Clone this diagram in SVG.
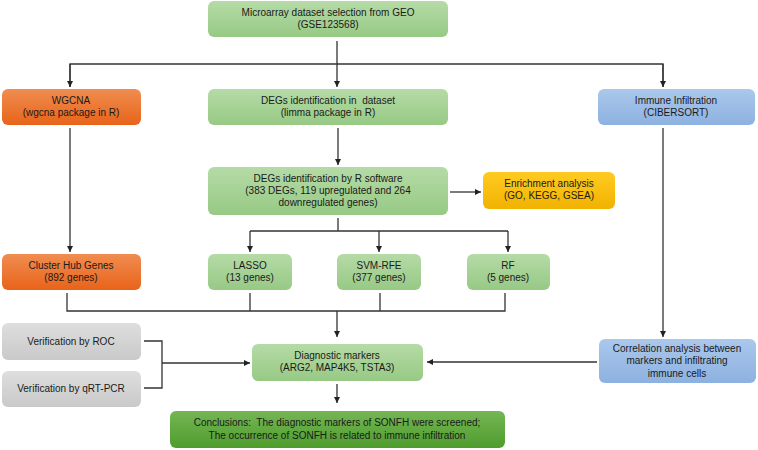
<svg xmlns="http://www.w3.org/2000/svg" width="758" height="450" viewBox="0 0 758 450">
<defs>
<linearGradient id="gGreen" x1="0" y1="0" x2="0" y2="1"><stop offset="0" stop-color="#b5dba6"/><stop offset="1" stop-color="#97c985"/></linearGradient>
<linearGradient id="gOrange" x1="0" y1="0" x2="0" y2="1"><stop offset="0" stop-color="#f08d50"/><stop offset="1" stop-color="#e8631a"/></linearGradient>
<linearGradient id="gBlue" x1="0" y1="0" x2="0" y2="1"><stop offset="0" stop-color="#abc8ec"/><stop offset="1" stop-color="#8db1e0"/></linearGradient>
<linearGradient id="gYellow" x1="0" y1="0" x2="0" y2="1"><stop offset="0" stop-color="#ffcb22"/><stop offset="1" stop-color="#f2b200"/></linearGradient>
<linearGradient id="gGray" x1="0" y1="0" x2="0" y2="1"><stop offset="0" stop-color="#dedede"/><stop offset="1" stop-color="#c9c9c9"/></linearGradient>
<linearGradient id="gDark" x1="0" y1="0" x2="0" y2="1"><stop offset="0" stop-color="#74b654"/><stop offset="1" stop-color="#4f9c2d"/></linearGradient>
<marker id="arr" viewBox="0 0 10 10" refX="10" refY="5" markerWidth="6" markerHeight="6" markerUnits="userSpaceOnUse" orient="auto"><path d="M0,0 L10,5 L0,10 z" fill="#222"/></marker>
</defs>
<style>
text{font-family:"Liberation Sans",Arial,sans-serif;font-size:10px;fill:#1a1a1a;text-anchor:middle;white-space:pre}
.box{stroke:none}
.c{fill:none;stroke:#333;stroke-width:1.3}
</style>
<rect width="758" height="450" fill="#fff"/>
<g id="connectors">
<path class="c" d="M337,41 V87" marker-end="url(#arr)"/>
<path class="c" d="M70,87 V64 H663 V87" />
<path class="c" d="M70,64 V87" marker-end="url(#arr)"/>
<path class="c" d="M663,64 V87" marker-end="url(#arr)"/>
<path class="c" d="M70,128 V252" marker-end="url(#arr)"/>
<path class="c" d="M338,128 V165" marker-end="url(#arr)"/>
<path class="c" d="M450,192 H481" marker-end="url(#arr)"/>
<path class="c" d="M338,218 V231"/>
<path class="c" d="M250,231 H508"/>
<path class="c" d="M250,231 V252" marker-end="url(#arr)"/>
<path class="c" d="M379,231 V252" marker-end="url(#arr)"/>
<path class="c" d="M508,231 V252" marker-end="url(#arr)"/>
<path class="c" d="M67,293 V311 H505 V293"/>
<path class="c" d="M250,293 V311"/>
<path class="c" d="M380,293 V311"/>
<path class="c" d="M337,311 V337" marker-end="url(#arr)"/>
<path class="c" d="M144,341 H162 V388 H144"/>
<path class="c" d="M162,363 H250" marker-end="url(#arr)"/>
<path class="c" d="M337,384 V403" marker-end="url(#arr)"/>
<path class="c" d="M663,128 V337" marker-end="url(#arr)"/>
<path class="c" d="M597,362 H427" marker-end="url(#arr)"/>
</g>
<g id="microarray"><rect class="box" x="208" y="1" width="240" height="36" rx="6" fill="url(#gGreen)"/><text x="328" y="16">Microarray dataset selection from GEO</text><text x="328" y="28">(GSE123568)</text></g>
<g id="wgcna"><rect class="box" x="2" y="89" width="139" height="36" rx="6" fill="url(#gOrange)"/><text x="71" y="104">WGCNA</text><text x="71" y="116">(wgcna package in R)</text></g>
<g id="degs-dataset"><rect class="box" x="208" y="89" width="240" height="36" rx="6" fill="url(#gGreen)"/><text x="328" y="104" xml:space="preserve">DEGs identification in  dataset</text><text x="328" y="116">(limma package in R)</text></g>
<g id="immune"><rect class="box" x="598" y="89" width="157" height="36" rx="6" fill="url(#gBlue)"/><text x="676" y="104">Immune Infiltration</text><text x="676" y="116">(CIBERSORT)</text></g>
<g id="degs-r"><rect class="box" x="208" y="167" width="240" height="48" rx="6" fill="url(#gGreen)"/><text x="328" y="182">DEGs identification by R software</text><text x="328" y="194">(383 DEGs, 119 upregulated and 264</text><text x="328" y="206">downregulated genes)</text></g>
<g id="enrichment"><rect class="box" x="483" y="172" width="132" height="37" rx="6" fill="url(#gYellow)"/><text x="549" y="187">Enrichment analysis</text><text x="549" y="199">(GO, KEGG, GSEA)</text></g>
<g id="cluster"><rect class="box" x="2" y="254" width="139" height="36" rx="6" fill="url(#gOrange)"/><text x="71" y="269">Cluster Hub Genes</text><text x="71" y="281">(892 genes)</text></g>
<g id="lasso"><rect class="box" x="208" y="254" width="84" height="36" rx="6" fill="url(#gGreen)"/><text x="250" y="269">LASSO</text><text x="250" y="281">(13 genes)</text></g>
<g id="svm"><rect class="box" x="337" y="254" width="84" height="36" rx="6" fill="url(#gGreen)"/><text x="379" y="269">SVM-RFE</text><text x="379" y="281">(377 genes)</text></g>
<g id="rf"><rect class="box" x="467" y="254" width="83" height="36" rx="6" fill="url(#gGreen)"/><text x="508" y="269">RF</text><text x="508" y="281">(5 genes)</text></g>
<g id="roc"><rect class="box" x="2" y="323" width="139" height="37" rx="6" fill="url(#gGray)"/><text x="71" y="345">Verification by ROC</text></g>
<g id="qrtpcr"><rect class="box" x="2" y="371" width="139" height="36" rx="6" fill="url(#gGray)"/><text x="71" y="392">Verification by qRT-PCR</text></g>
<g id="diagnostic"><rect class="box" x="252" y="344" width="171" height="37" rx="6" fill="url(#gGreen)"/><text x="337" y="359">Diagnostic markers</text><text x="337" y="371">(ARG2, MAP4K5, TSTA3)</text></g>
<g id="correlation"><rect class="box" x="599" y="339" width="157" height="44" rx="6" fill="url(#gBlue)"/><text x="677" y="352">Correlation analysis between</text><text x="677" y="364">markers and infiltrating</text><text x="677" y="377">immune cells</text></g>
<g id="conclusions"><rect class="box" x="170" y="411" width="335" height="37" rx="6" fill="url(#gDark)"/><text x="337" y="426" xml:space="preserve">Conclusions:  The diagnostic markers of SONFH were screened;</text><text x="337" y="439">The occurrence of SONFH is related to immune infiltration</text></g>
</svg>
